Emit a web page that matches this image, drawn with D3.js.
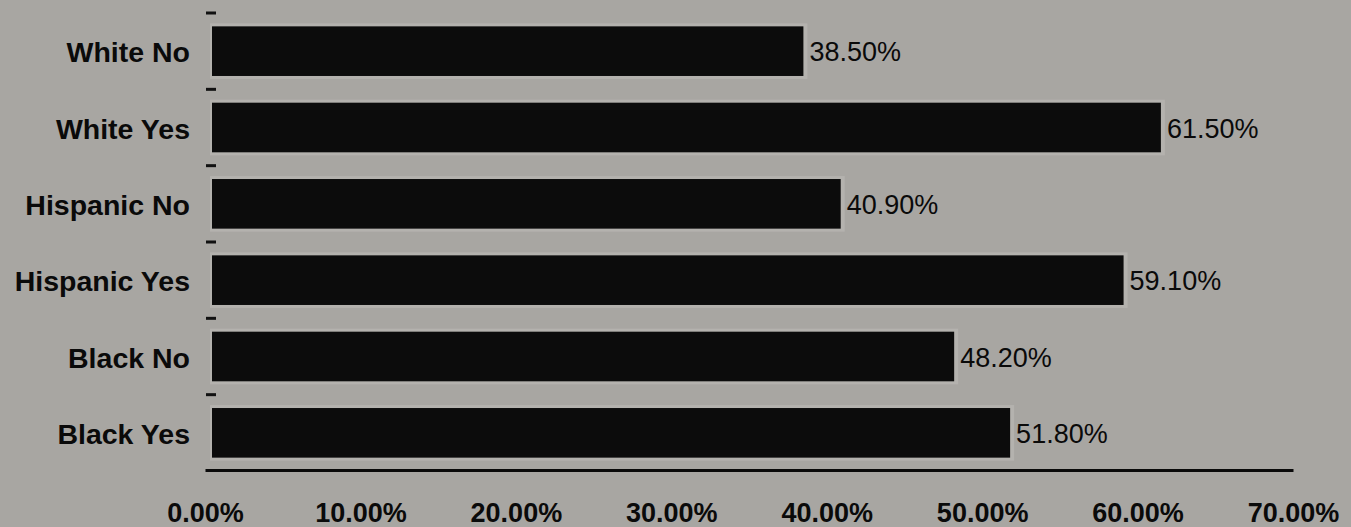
<!DOCTYPE html>
<html>
<head>
<meta charset="utf-8">
<script src="https://cdn.jsdelivr.net/npm/d3@7"></script>
<style>
  html, body { margin: 0; padding: 0; background: #a8a6a2; }
  svg { display: block; }
</style>
</head>
<body>
<div id="chart"></div>
<script>
// donnees
const categories = ['White No', 'White Yes', 'Hispanic No', 'Hispanic Yes', 'Black No', 'Black Yes']
const values = [38.5, 61.5, 40.9, 59.1, 48.2, 51.8]
const xTicks = [0, 10, 20, 30, 40, 50, 60, 70]

const data = categories.map((c, i) => ({ cat: c, val: values[i] }))

let width = 1351,
    height = 527

let svg = d3.select('#chart')
    .append('svg')
    .attr('width', width)
    .attr('height', height)

svg.append('rect')
    .attr('width', width)
    .attr('height', height)
    .attr('fill', '#a8a6a2')

let x = d3.scaleLinear()
    .domain([0, 70])
    .range([205, 1293])

let y = d3.scaleBand()
    .domain(categories)
    .range([13, 471])
    .paddingInner(0.35)
    .paddingOuter(0.175)

// petits traits de l'axe Y (au-dessus de chaque barre)
svg.append('g')
    .selectAll('line')
    .data(categories)
    .join('line')
    .attr('x1', x(0) + 1)
    .attr('x2', x(0) + 11)
    .attr('y1', d => y(d) - y.step() * y.paddingInner() / 2)
    .attr('y2', d => y(d) - y.step() * y.paddingInner() / 2)
    .attr('stroke', '#111')
    .attr('stroke-width', 3)

// halo clair autour des barres (effet du scan)
svg.append('g')
    .selectAll('rect')
    .data(data)
    .join('rect')
    .attr('x', x(0) + 5)
    .attr('y', d => y(d.cat) - 3)
    .attr('width', d => x(d.val) - x(0) - 1)
    .attr('height', y.bandwidth() + 6)
    .attr('fill', '#b4b2ae')

// barres
svg.append('g')
    .selectAll('rect')
    .data(data)
    .join('rect')
    .attr('x', x(0) + 7)
    .attr('y', d => y(d.cat))
    .attr('width', d => x(d.val) - x(0) - 7)
    .attr('height', y.bandwidth())
    .attr('fill', '#0c0c0c')

// etiquettes des categories
svg.append('g')
    .selectAll('text')
    .data(categories)
    .join('text')
    .attr('x', 190)
    .attr('y', d => y(d) + y.bandwidth() / 2 + 11)
    .attr('text-anchor', 'end')
    .attr('font-family', 'Liberation Sans, Arial, sans-serif')
    .attr('font-weight', 'bold')
    .attr('font-size', 28.5)
    .attr('fill', '#0a0a0a')
    .text(d => d)

// valeurs au bout des barres
svg.append('g')
    .selectAll('text')
    .data(data)
    .join('text')
    .attr('x', d => x(d.val) + 6)
    .attr('y', d => y(d.cat) + y.bandwidth() / 2 + 10)
    .attr('font-family', 'Liberation Sans, Arial, sans-serif')
    .attr('font-size', 27)
    .attr('fill', '#0a0a0a')
    .text(d => d.val.toFixed(2) + '%')

// axe X
let xAxis = svg.append('g')
    .attr('transform', 'translate(0,470)')
    .call(d3.axisBottom(x)
        .tickValues(xTicks)
        .tickSize(0)
        .tickPadding(33)
        .tickFormat(d => d.toFixed(2) + '%'))

xAxis.select('.domain')
    .attr('stroke', '#0a0a0a')
    .attr('stroke-width', 3)

xAxis.selectAll('text')
    .attr('font-family', 'Liberation Sans, Arial, sans-serif')
    .attr('font-weight', 'bold')
    .attr('font-size', 27)
    .attr('fill', '#0a0a0a')
</script>
</body>
</html>
